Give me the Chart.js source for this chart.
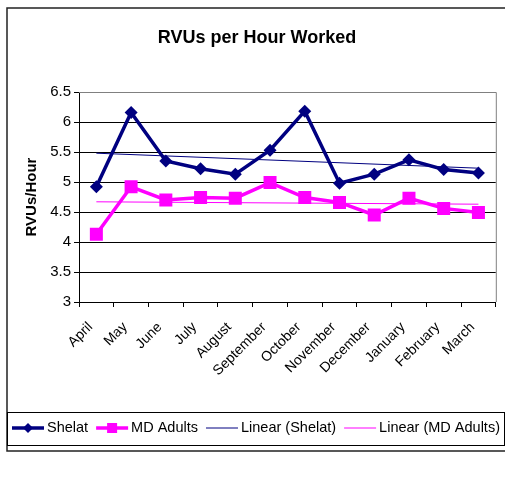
<!DOCTYPE html>
<html>
<head>
<meta charset="utf-8">
<script src="https://cdn.jsdelivr.net/npm/chart.js@4"></script>
<style>
  html, body { margin: 0; padding: 0; background: #fff; }
  #wrap { width: 505px; height: 479px; }
</style>
</head>
<body>
<div id="wrap"><canvas id="rvuChart" width="505" height="479"></canvas></div>
<script>
const months = ['April', 'May', 'June', 'July', 'August', 'September', 'October', 'November', 'December', 'January', 'February', 'March'];
const shelat = [4.92, 6.16, 5.35, 5.22, 5.13, 5.53, 6.18, 4.98, 5.13, 5.37, 5.21, 5.15];
const mdAdults = [4.13, 4.92, 4.70, 4.74, 4.73, 4.99, 4.74, 4.66, 4.45, 4.73, 4.56, 4.49];
// trend line end points
const shelatTrend = [5.48, 5.23];
const mdTrend = [4.67, 4.63];
const yTicks = [3, 3.5, 4, 4.5, 5, 5.5, 6, 6.5];
const chartTitle = 'RVUs per Hour Worked';

const NAVY = '#000080';
const PINK = '#FF00FF';
const FONT = 'Arial, "Liberation Sans", sans-serif';

// title, frame, plot border and legend drawn by hand (Excel style)
const excelLook = {
    id: 'excelLook',
    beforeDraw(chart) {
        const c = chart.ctx;
        c.save();
        c.fillStyle = '#fff';
        c.fillRect(0, 0, chart.width, chart.height);
        c.restore();
    },
    afterDraw(chart) {
        const c = chart.ctx;
        const a = chart.chartArea;
        c.save();
        // title
        c.fillStyle = '#000';
        c.font = 'bold 18px ' + FONT;
        c.textAlign = 'center';
        c.textBaseline = 'middle';
        c.fillText(chartTitle, 257, 38);
        c.textAlign = 'left';

        // plot area border top / right
        c.strokeStyle = '#808080';
        c.lineWidth = 1;
        c.beginPath();
        c.moveTo(a.left, a.top + 0.5);
        c.lineTo(a.right + 0.5, a.top + 0.5);
        c.lineTo(a.right + 0.5, a.bottom);
        c.stroke();

        // outer frame
        c.strokeStyle = '#222';
        c.lineWidth = 1.5;
        c.beginPath();
        c.moveTo(chart.width, 8);
        c.lineTo(7, 8);
        c.lineTo(7, 451);
        c.lineTo(chart.width, 451);
        c.stroke();

        // legend box
        c.lineWidth = 1;
        c.strokeStyle = '#000';
        c.strokeRect(7.5, 412.5, chart.width - 8, 33);

        const items = [
            { text: 'Shelat', color: NAVY, width: 3.5, marker: 'diamond' },
            { text: 'MD Adults', color: PINK, width: 3.5, marker: 'square' },
            { text: 'Linear (Shelat)', color: NAVY, width: 1 },
            { text: 'Linear (MD Adults)', color: PINK, width: 1 }
        ];
        c.font = '14.5px ' + FONT;
        c.textBaseline = 'middle';
        let x = 12;
        const y = 428;
        items.forEach(it => {
            c.strokeStyle = it.color;
            c.lineWidth = it.width;
            c.beginPath();
            c.moveTo(x, y);
            c.lineTo(x + 32, y);
            c.stroke();
            c.fillStyle = it.color;
            if (it.marker === 'diamond') {
                c.beginPath();
                c.moveTo(x + 16, y - 5);
                c.lineTo(x + 21, y);
                c.lineTo(x + 16, y + 5);
                c.lineTo(x + 11, y);
                c.closePath();
                c.fill();
            } else if (it.marker === 'square') {
                c.fillRect(x + 11, y - 5, 10, 10);
            }
            c.fillStyle = '#000';
            c.fillText(it.text, x + 35, y);
            x += 35 + c.measureText(it.text).width + 8;
        });
        c.restore();
    }
};

new Chart(document.getElementById('rvuChart'), {
    type: 'line',
    data: {
        labels: months,
        datasets: [
            {
                label: 'Shelat',
                data: shelat,
                borderColor: NAVY,
                backgroundColor: NAVY,
                borderWidth: 3.5,
                pointStyle: 'rectRot',
                pointRadius: 6.5,
                pointBorderWidth: 0,
                tension: 0
            },
            {
                label: 'MD Adults',
                data: mdAdults,
                borderColor: PINK,
                backgroundColor: PINK,
                borderWidth: 3.5,
                pointStyle: 'rect',
                pointRadius: 9.2,
                pointBorderWidth: 0,
                tension: 0
            },
            {
                label: 'Linear (Shelat)',
                data: [{ x: months[0], y: shelatTrend[0] }, { x: months[months.length - 1], y: shelatTrend[1] }],
                borderColor: NAVY,
                borderWidth: 1,
                pointRadius: 0
            },
            {
                label: 'Linear (MD Adults)',
                data: [{ x: months[0], y: mdTrend[0] }, { x: months[months.length - 1], y: mdTrend[1] }],
                borderColor: PINK,
                borderWidth: 1,
                pointRadius: 0
            }
        ]
    },
    options: {
        responsive: false,
        animation: false,
        layout: { padding: { left: 0, right: 9, top: 92, bottom: 77 } },
        plugins: {
            legend: { display: false },
            tooltip: { enabled: false },
            title: { display: false }
        },
        scales: {
            x: {
                type: 'category',
                offset: true,
                afterFit(scale) { scale.height = 100; },
                grid: {
                    offset: true,
                    drawOnChartArea: false,
                    drawTicks: true,
                    tickLength: 5,
                    color: '#000'
                },
                border: { color: '#000', width: 1 },
                ticks: {
                    color: '#000',
                    font: { family: FONT, size: 14 },
                    minRotation: 45,
                    maxRotation: 45,
                    autoSkip: false,
                    padding: 12,
                    labelOffset: -6
                }
            },
            y: {
                min: 3,
                max: 6.5,
                afterFit(scale) { scale.width = 79; },
                afterBuildTicks(scale) { scale.ticks = yTicks.map(v => ({ value: v })); },
                grid: { color: '#000', tickLength: 5 },
                border: { color: '#000', width: 1 },
                ticks: {
                    color: '#000',
                    font: { family: FONT, size: 15 },
                    padding: 3,
                    callback: v => String(v)
                },
                title: {
                    display: true,
                    text: 'RVUs/Hour',
                    color: '#000',
                    font: { family: FONT, size: 15, weight: 'bold' },
                    padding: { top: 23, bottom: 0 }
                }
            }
        }
    },
    plugins: [excelLook]
});
</script>
</body>
</html>
